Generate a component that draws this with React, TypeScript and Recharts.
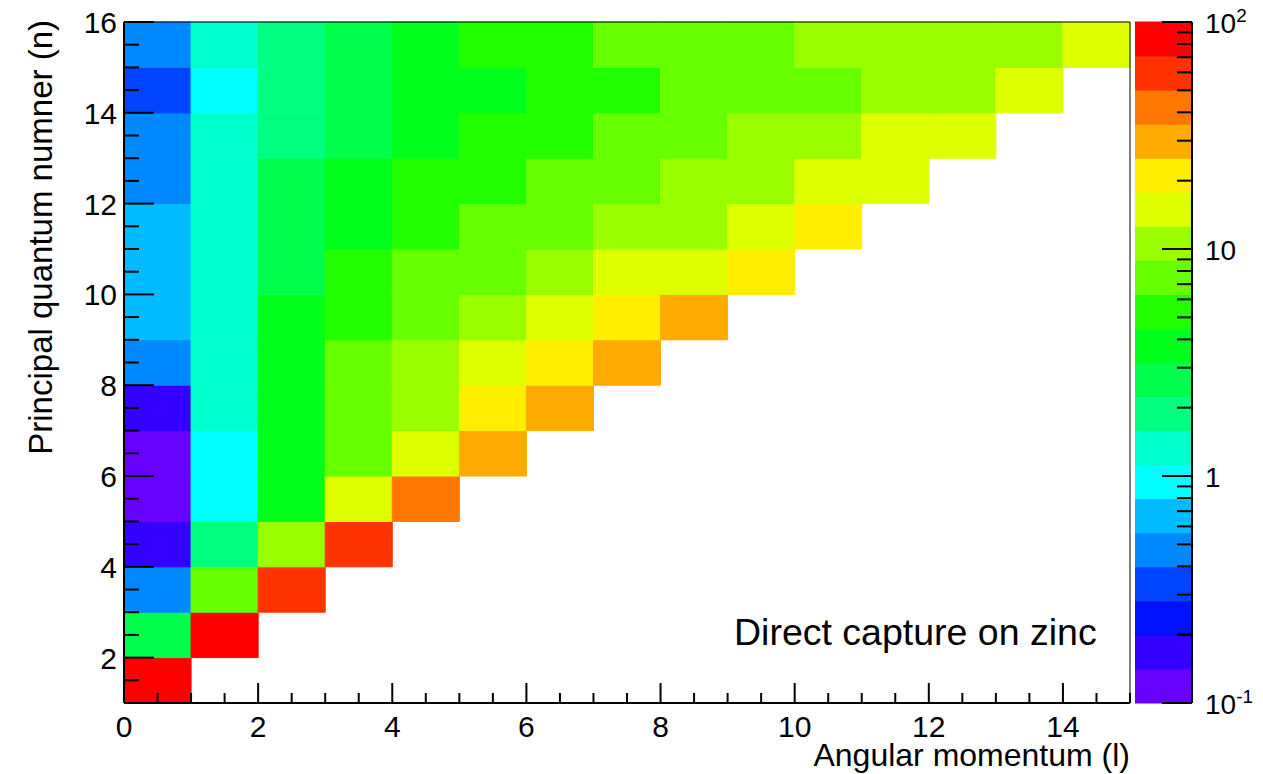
import React from "react";
import { ComposedChart, XAxis, YAxis, ReferenceArea } from "recharts";

// capture yield per (n, l) state; one array per principal quantum number, index = l
const n1 = [84];
const n2 = [2.7, 84];
const n3 = [0.47, 7.5, 60];
const n4 = [0.17, 1.9, 10.6, 60];
const n5 = [0.12, 0.94, 3.8, 15, 42];
const n6 = [0.12, 0.94, 3.8, 7.5, 15, 30];
const n7 = [0.17, 1.33, 3.8, 7.5, 10.6, 21, 30];
const n8 = [0.47, 1.33, 3.8, 7.5, 10.6, 15, 21, 30];
const n9 = [0.67, 1.33, 3.8, 5.3, 7.5, 10.6, 15, 21, 30];
const n10 = [0.67, 1.33, 2.7, 5.3, 7.5, 7.5, 10.6, 15, 15, 21];
const n11 = [0.67, 1.33, 2.7, 3.8, 5.3, 7.5, 7.5, 10.6, 10.6, 15, 21];
const n12 = [0.47, 1.33, 2.7, 3.8, 5.3, 5.3, 7.5, 7.5, 10.6, 10.6, 15, 15];
const n13 = [0.47, 1.33, 1.9, 2.7, 3.8, 5.3, 5.3, 7.5, 7.5, 10.6, 10.6, 15, 15];
const n14 = [0.34, 0.94, 1.9, 2.7, 3.8, 3.8, 5.3, 5.3, 7.5, 7.5, 7.5, 10.6, 10.6, 15];
const n15 = [0.47, 1.33, 1.9, 2.7, 3.8, 5.3, 5.3, 7.5, 7.5, 7.5, 10.6, 10.6, 10.6, 10.6, 15];
const rows = [n1, n2, n3, n4, n5, n6, n7, n8, n9, n10, n11, n12, n13, n14, n15];

const lTicks = [0, 0.5, 1, 1.5, 2, 2.5, 3, 3.5, 4, 4.5, 5, 5.5, 6, 6.5, 7, 7.5, 8, 8.5, 9, 9.5, 10, 10.5, 11, 11.5, 12, 12.5, 13, 13.5, 14, 14.5, 15];
const nTicks = [1, 1.5, 2, 2.5, 3, 3.5, 4, 4.5, 5, 5.5, 6, 6.5, 7, 7.5, 8, 8.5, 9, 9.5, 10, 10.5, 11, 11.5, 12, 12.5, 13, 13.5, 14, 14.5, 15, 15.5, 16];
const zTicks = [
  0.1, 0.2, 0.3, 0.4, 0.5, 0.6, 0.7, 0.8, 0.9,
  1, 2, 3, 4, 5, 6, 7, 8, 9,
  10, 20, 30, 40, 50, 60, 70, 80, 90, 100,
];

// 20-level rainbow palette, low -> high
const palette = [
  "#6600ff", "#3300ff", "#0011ff", "#0044ff", "#0088ff",
  "#00bbff", "#00ffff", "#00ffcc", "#00ff80", "#00ff4d",
  "#00ff1a", "#22ff00", "#66ff00", "#99ff00", "#ddff00",
  "#ffee00", "#ffaa00", "#ff7700", "#ff3300", "#ff0000",
];

const Z_MIN = 0.1;
const Z_MAX = 100;
const LEVELS = palette.length;
const FONT = '"Liberation Sans", Arial, Helvetica, sans-serif';

const levelEdge = (k: number) => Z_MIN * Math.pow(Z_MAX / Z_MIN, k / LEVELS);
const colorOf = (v: number) => {
  const k = Math.floor((LEVELS * Math.log(v / Z_MIN)) / Math.log(Z_MAX / Z_MIN));
  return palette[Math.max(0, Math.min(LEVELS - 1, k))];
};

const cells = rows.flatMap((vals, i) => vals.map((v, l) => ({ n: i + 1, l, v })));
// palette band edges on the log z axis, clamped to the axis range
const bands = palette.map((c, k) => ({
  c,
  lo: Math.max(Z_MIN, levelEdge(k)),
  hi: Math.min(Z_MAX, levelEdge(k + 1)),
}));

const LTick = ({ x, y, payload }: any) => {
  const v = payload.value;
  const major = v % 2 === 0;
  return (
    <g>
      <line x1={x} x2={x} y1={y} y2={y - (major ? 20 : 10)} stroke="#000" strokeWidth={2} />
      {major && (
        <text x={x} y={y + 34} textAnchor="middle" fontSize={30} fontFamily={FONT} fill="#000">
          {v}
        </text>
      )}
    </g>
  );
};

const NTick = ({ x, y, payload }: any) => {
  const v = payload.value;
  const major = v % 2 === 0;
  return (
    <g>
      <line x1={x} x2={x + (major ? 30 : 15)} y1={y} y2={y} stroke="#000" strokeWidth={2} />
      {major && (
        <text x={x - 7} y={y + 11} textAnchor="end" fontSize={30} fontFamily={FONT} fill="#000">
          {v}
        </text>
      )}
    </g>
  );
};

const ZTick = ({ x, y, payload }: any) => {
  const v = payload.value;
  const p = Math.log10(v);
  const e = Math.round(p);
  const major = Math.abs(p - e) < 1e-6;
  let label: React.ReactNode = null;
  if (major) {
    if (e === 0) label = "1";
    else if (e === 1) label = "10";
    else
      label = (
        <>
          10
          <tspan dy={-11} fontSize={19}>
            {e}
          </tspan>
        </>
      );
  }
  return (
    <g>
      <line x1={x} x2={x - (major ? 30 : 15)} y1={y} y2={y} stroke="#000" strokeWidth={2} />
      {major && (
        <text x={x + 13} y={y + 11} fontSize={28} fontFamily={FONT} fill="#000">
          {label}
        </text>
      )}
    </g>
  );
};

export default function App() {
  return (
    <div style={{ position: "absolute", left: 0, top: 0, width: 1263, height: 774, background: "#fff" }}>
      <div style={{ position: "absolute", left: 0, top: 0 }}>
        <ComposedChart width={1263} height={774} margin={{ top: 22, right: 133, bottom: 0, left: 0 }}>
          {cells.map((c) => (
            <ReferenceArea
              key={`${c.n}-${c.l}`}
              x1={c.l}
              x2={c.l + 1}
              y1={c.n}
              y2={c.n + 1}
              fill={colorOf(c.v)}
              fillOpacity={1}
              stroke={colorOf(c.v)}
              strokeWidth={1}
            />
          ))}
          <ReferenceArea x1={0} x2={15} y1={1} y2={16} fill="none" stroke="#000" strokeWidth={1} />
          <XAxis
            type="number"
            dataKey="l"
            domain={[0, 15]}
            ticks={lTicks}
            interval={0}
            height={71}
            tickSize={0}
            tickMargin={0}
            tickLine={false}
            tick={<LTick />}
            axisLine={{ stroke: "#000", strokeWidth: 2 }}
            allowDataOverflow
          />
          <YAxis
            type="number"
            dataKey="n"
            domain={[1, 16]}
            ticks={nTicks}
            interval={0}
            width={124}
            tickSize={0}
            tickMargin={0}
            tickLine={false}
            tick={<NTick />}
            axisLine={{ stroke: "#000", strokeWidth: 2 }}
            allowDataOverflow
          />
        </ComposedChart>
      </div>
      <div style={{ position: "absolute", left: 1135, top: 0 }}>
        <ComposedChart width={128} height={774} margin={{ top: 22, right: 0, bottom: 71, left: 0 }}>
          {bands.map((b) => (
            <ReferenceArea
              key={b.c}
              x1={0}
              x2={1}
              y1={b.lo}
              y2={b.hi}
              fill={b.c}
              fillOpacity={1}
              stroke={b.c}
              strokeWidth={1}
              ifOverflow="visible"
            />
          ))}
          <XAxis type="number" dataKey="x" domain={[0, 1]} hide allowDataOverflow />
          <YAxis
            orientation="right"
            type="number"
            dataKey="z"
            scale="log"
            domain={[Z_MIN, Z_MAX]}
            ticks={zTicks}
            interval={0}
            width={71}
            tickSize={0}
            tickMargin={0}
            tickLine={false}
            tick={<ZTick />}
            axisLine={{ stroke: "#000", strokeWidth: 2 }}
            allowDataOverflow
          />
        </ComposedChart>
      </div>
      <svg
        width={1263}
        height={774}
        style={{ position: "absolute", left: 0, top: 0, pointerEvents: "none" }}
        fontFamily={FONT}
      >
        <text x={734} y={645} fontSize={37.5} fill="#000">
          Direct capture on zinc
        </text>
        <text x={1130} y={766} fontSize={32} textAnchor="end" fill="#000">
          Angular momentum (l)
        </text>
        <text transform="rotate(-90)" x={-20} y={52} fontSize={33} textAnchor="end" fill="#000">
          Principal quantum numner (n)
        </text>
      </svg>
    </div>
  );
}
